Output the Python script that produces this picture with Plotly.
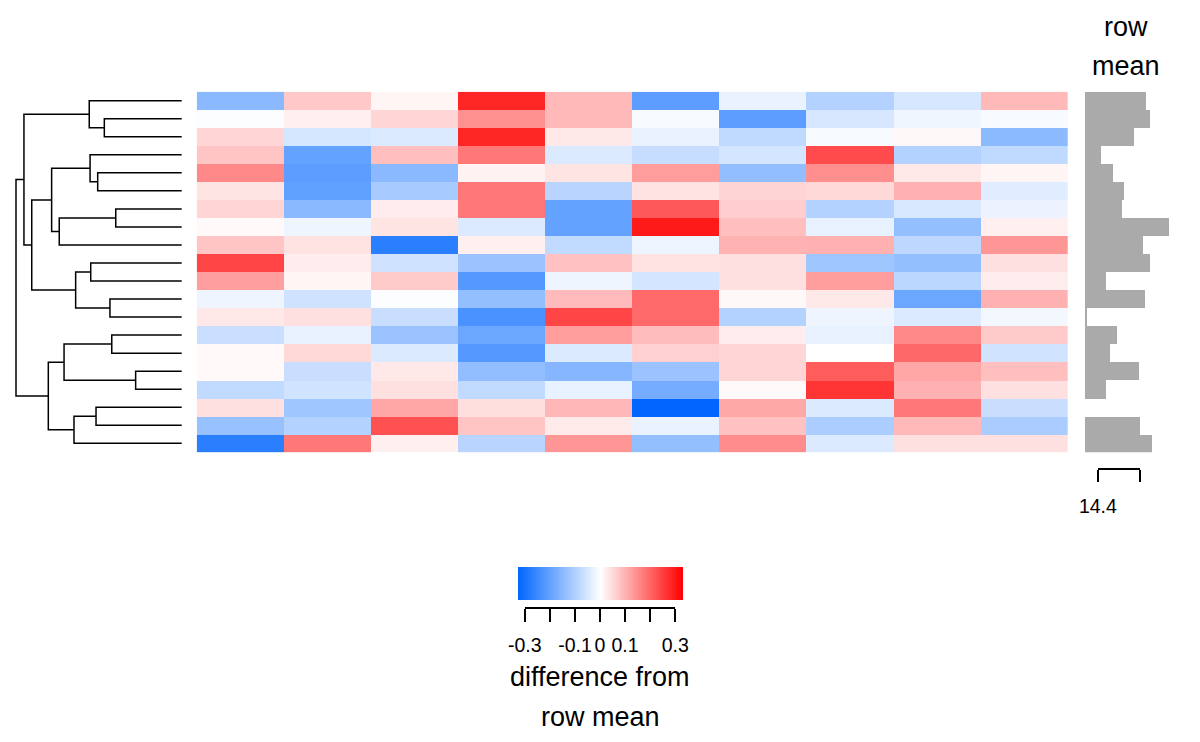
import plotly.graph_objects as go

# ---------------- data ----------------
# difference from row mean, one list per heatmap row (top to bottom), 10 columns each
r01 = [-0.150, 0.070, 0.013, 0.280, 0.090, -0.210, -0.027, -0.097, -0.052, 0.090]
r02 = [-0.005, 0.020, 0.054, 0.143, 0.090, -0.010, -0.210, -0.052, -0.020, -0.010]
r03 = [0.054, -0.054, -0.045, 0.280, 0.030, -0.027, -0.082, -0.010, 0.009, -0.148]
r04 = [0.076, -0.200, 0.082, 0.174, -0.045, -0.073, -0.055, 0.232, -0.097, -0.082]
r05 = [0.154, -0.210, -0.150, 0.017, 0.035, 0.128, -0.141, 0.145, 0.030, 0.013]
r06 = [0.035, -0.205, -0.113, 0.174, -0.092, 0.037, 0.056, 0.050, 0.102, -0.040]
r07 = [0.054, -0.150, 0.025, 0.174, -0.200, 0.215, 0.065, -0.097, -0.050, -0.025]
r08 = [0.008, -0.022, 0.035, -0.045, -0.200, 0.296, 0.082, -0.030, -0.138, 0.020]
r09 = [0.076, 0.037, -0.275, 0.020, -0.080, -0.022, 0.099, 0.100, -0.085, 0.135]
r10 = [0.240, 0.025, -0.062, -0.128, 0.080, 0.037, 0.040, -0.123, -0.138, 0.040]
r11 = [0.125, 0.013, 0.068, -0.220, -0.022, -0.055, 0.040, 0.128, -0.087, 0.024]
r12 = [-0.022, -0.062, -0.004, -0.138, 0.088, 0.194, 0.009, 0.030, -0.190, 0.100]
r13 = [0.030, 0.040, -0.070, -0.234, 0.240, 0.194, -0.097, -0.022, -0.045, -0.015]
r14 = [-0.068, -0.030, -0.128, -0.190, 0.128, 0.087, 0.024, -0.030, 0.154, 0.068]
r15 = [0.008, 0.050, -0.045, -0.220, -0.045, 0.060, 0.054, 0.000, 0.195, -0.060]
r16 = [0.008, -0.070, 0.030, -0.141, -0.158, -0.128, 0.054, 0.210, 0.115, 0.082]
r17 = [-0.080, -0.060, 0.040, -0.080, -0.030, -0.178, 0.008, 0.260, 0.100, 0.040]
r18 = [0.040, -0.123, 0.115, 0.043, 0.093, -0.329, 0.112, -0.045, 0.174, -0.070]
r19 = [-0.133, -0.097, 0.225, 0.076, 0.027, -0.027, 0.080, -0.107, 0.090, -0.110]
r20 = [-0.275, 0.174, 0.020, -0.092, 0.135, -0.138, 0.147, -0.045, 0.040, 0.040]

# row means (same row order)
row_mean = [14.515, 14.523, 14.486, 14.408, 14.436, 14.462, 14.457, 14.569, 14.507, 14.523,
            14.420, 14.511, 14.373, 14.446, 14.428, 14.498, 14.418, 14.369, 14.500, 14.529]

# hclust-style merge matrix (negative = leaf/row number, positive = earlier merge step)
merge = [[-16, -17], [-7, -8], [-14, -15], [-12, -13], [-2, -3], [-5, -6], [-18, -19],
         [-10, -11], [-4, 6], [-1, 5], [8, 4], [7, -20], [3, 1], [2, -9], [9, 14],
         [13, 12], [15, 11], [10, 17], [18, 16]]
merge_height = [0.278, 0.398, 0.422, 0.433, 0.467, 0.507, 0.517, 0.549, 0.553, 0.558,
                0.640, 0.650, 0.710, 0.739, 0.785, 0.805, 0.905, 0.952, 1.000]

colorbar_ticks = [-0.3, -0.2, -0.1, 0.0, 0.1, 0.2, 0.3]
colorbar_ticktext = ["-0.3", "", "-0.1", "0", "0.1", "", "0.3"]
mean_ticks = [14.4, 14.5]
mean_ticktext = ["14.4", ""]

# ---------------- layout helpers ----------------
W, H = 1200, 742
def fx(p):
    return p / W
def fy(p):
    return 1 - p / H

z = [r01, r02, r03, r04, r05, r06, r07, r08, r09, r10,
     r11, r12, r13, r14, r15, r16, r17, r18, r19, r20]
n_rows, n_cols = len(z), len(z[0])
ZLIM = 0.329
FONT = "Liberation Sans, Arial, Helvetica, sans-serif"

fig = go.Figure()

# main heatmap with library colorbar
fig.add_trace(go.Heatmap(
    z=z, x=list(range(n_cols)), y=list(range(n_rows)),
    colorscale=[[0, "#0066FF"], [0.5, "#FFFFFF"], [1, "#FF0000"]],
    zmin=-ZLIM, zmax=ZLIM, xaxis="x", yaxis="y",
    colorbar=dict(orientation="h", thicknessmode="pixels", thickness=33.4,
                  lenmode="pixels", len=165, x=fx(600), xanchor="center",
                  y=fy(567.3), yanchor="top", xpad=0, ypad=0, outlinewidth=0,
                  ticks="", showticklabels=False),
    hoverinfo="skip",
))

# row-mean bars
base = min(row_mean)
fig.add_trace(go.Bar(
    x=[v - base for v in row_mean], y=list(range(n_rows)), base=base,
    orientation="h", marker=dict(color="#AAAAAA", line=dict(width=0)),
    width=1.0, xaxis="x2", yaxis="y", hoverinfo="skip",
))

# dendrogram
nodes = []
def pos(ref):
    if ref < 0:
        return (-ref - 1, 0.0)
    return nodes[ref - 1]
dx, dy = [], []
for (a, b), h in zip(merge, merge_height):
    ya, ha = pos(a)
    yb, hb = pos(b)
    dx += [ha, h, h, hb, None]
    dy += [ya, ya, yb, yb, None]
    nodes.append(((ya + yb) / 2, h))
fig.add_trace(go.Scatter(x=dx, y=dy, mode="lines", line=dict(color="black", width=1.5),
                         xaxis="x3", yaxis="y", hoverinfo="skip"))

# carriers for the free tick axes
fig.add_trace(go.Scatter(x=[None], y=[None], xaxis="x4", yaxis="y", mode="markers",
                         hoverinfo="skip"))
fig.add_trace(go.Scatter(x=[None], y=[None], xaxis="x5", yaxis="y", mode="markers",
                         hoverinfo="skip"))

hidden = dict(visible=False, showgrid=False, zeroline=False, automargin=False)
tick_axis = dict(anchor="free", side="bottom", showline=True, linecolor="black",
                 linewidth=1.5, ticks="outside", ticklen=12.5, tickwidth=1.5,
                 tickcolor="black", tickfont=dict(size=19.5, family=FONT, color="black"),
                 ticklabelstandoff=7, showgrid=False, zeroline=False, automargin=False)
px_per_unit = 420.0
fig.update_layout(
    template="none",
    width=W, height=H, margin=dict(l=0, r=0, t=0, b=0, pad=0, autoexpand=False),
    paper_bgcolor="white", plot_bgcolor="rgba(0,0,0,0)", showlegend=False,
    bargap=0,
    font=dict(family=FONT, color="black"),
    xaxis=dict(domain=[fx(196.7), fx(1068)], range=[-0.5, n_cols - 0.5], anchor="y", **hidden),
    yaxis=dict(domain=[fy(452.3), fy(91.7)], range=[n_rows - 0.5, -0.5], anchor="x", **hidden),
    xaxis2=dict(domain=[fx(1085), fx(1190)], range=[base, base + 105 / px_per_unit],
                anchor="y", **hidden),
    xaxis3=dict(domain=[fx(10), fx(185)], range=[(181.7 - 10) / 165.7, (181.7 - 185) / 165.7],
                anchor="y", **hidden),
    xaxis4=dict(domain=[fx(524.8), fx(675.2)], range=[-0.3, 0.3], position=fy(608.3),
                tickvals=colorbar_ticks, ticktext=colorbar_ticktext, **tick_axis),
    xaxis5=dict(domain=[fx(1097.85), fx(1139.85)], range=[14.4, 14.5], position=fy(469),
                tickvals=mean_ticks, ticktext=mean_ticktext, **tick_axis),
)

for txt, x, y in [("row", 1126, 27.3), ("mean", 1126, 66.3),
                  ("difference from", 600, 676.8), ("row mean", 600, 716.8)]:
    fig.add_annotation(text=txt, x=fx(x), y=fy(y), xref="paper", yref="paper",
                       xanchor="center", yanchor="middle", showarrow=False,
                       font=dict(size=27, family=FONT, color="black"))

fig.write_html("out.html", config={"displayModeBar": False},
               post_script="document.body.style.margin='0px';document.body.style.overflow='hidden';")
